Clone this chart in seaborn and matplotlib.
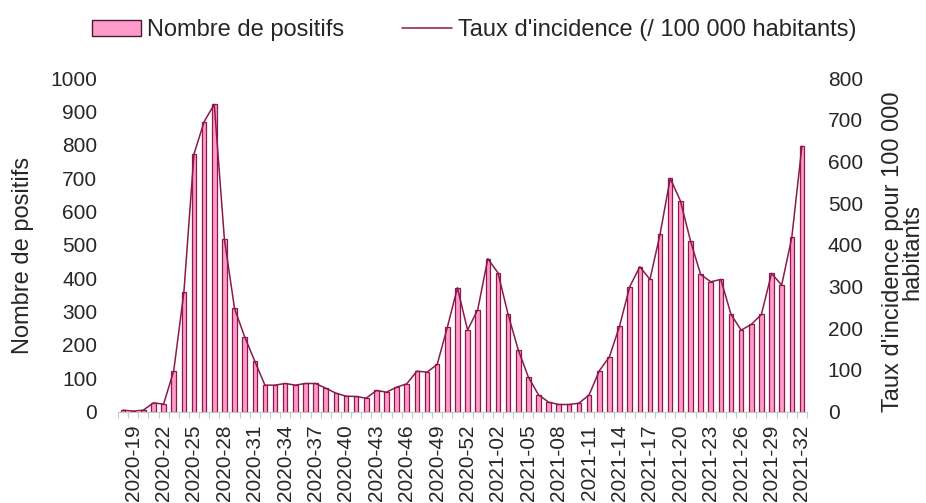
import numpy as np
import matplotlib
matplotlib.use('Agg')
import matplotlib.pyplot as plt
import seaborn as sns
from matplotlib.patches import Patch
from matplotlib.lines import Line2D

# ---------------------------
# Data
# ---------------------------
weeks = ['2020-%02d' % w for w in range(18, 54)] + ['2021-%02d' % w for w in range(1, 33)]

positifs = [4, 1, 4, 26, 22, 122, 357, 772, 869, 921,
            517, 309, 224, 151, 79, 79, 84, 79, 84, 84,
            70, 55, 46, 45, 40, 63, 58, 73, 83, 121,
            118, 141, 252, 371, 244, 305, 458, 416, 291, 185,
            103, 50, 28, 21, 21, 25, 50, 122, 164, 256,
            374, 434, 396, 532, 699, 632, 512, 411, 389, 396,
            291, 244, 261, 291, 414, 379, 522, 796]

taux = [3.2, 0.8, 3.2, 20.8, 17.6, 97.6, 285.6, 617.6, 695.2, 736.8,
        413.6, 247.2, 179.2, 120.8, 63.2, 63.2, 67.2, 63.2, 67.2, 67.2,
        56.0, 44.0, 36.8, 36.0, 32.0, 50.4, 46.4, 58.4, 66.4, 96.8,
        94.4, 112.8, 201.6, 296.8, 195.2, 244.0, 366.4, 332.8, 232.8, 148.0,
        82.4, 40.0, 22.4, 16.8, 16.8, 20.0, 40.0, 97.6, 131.2, 204.8,
        299.2, 347.2, 316.8, 425.6, 559.2, 505.6, 409.6, 328.8, 311.2, 316.8,
        232.8, 195.2, 208.8, 232.8, 331.2, 303.2, 417.6, 636.8]

# every third week gets a label, starting with 2020-19
tick_idx = list(range(1, len(weeks), 3))

bar_fill = '#ff9ccb'
dark = '#8b1a4b'
txt = '#262626'

sns.set_theme(style='white')
plt.rcParams['font.family'] = ['Liberation Sans', 'DejaVu Sans']

fig = plt.figure(figsize=(9.26, 5.03), dpi=100)
ax = fig.add_axes([118 / 926, 1 - 411.5 / 503, 689 / 926, 333.5 / 503])

# ---------------------------
# Bars: number of positives
# ---------------------------
sns.barplot(x=weeks, y=positifs, ax=ax, color=bar_fill, saturation=1,
            width=0.45, edgecolor=dark, linewidth=0.9)

# ---------------------------
# Line: incidence rate on the right axis
# ---------------------------
ax2 = ax.twinx()
sns.lineplot(x=np.arange(len(weeks)), y=taux, ax=ax2, color=dark, linewidth=1.1)

ax.set_xlim(-0.5, len(weeks) - 0.5)
ax.set_ylim(0, 1000)
ax.set_yticks(range(0, 1001, 100))
ax2.set_ylim(0, 800)
ax2.set_yticks(range(0, 801, 100))

ax.set_xticks(tick_idx)
ax.set_xticklabels([weeks[i] for i in tick_idx], rotation=90)
ax.set_xticks(np.arange(-0.5, len(weeks), 1), minor=True)
ax.tick_params(axis='x', which='major', length=0, pad=9.5, labelsize=15, labelcolor=txt)
ax.tick_params(axis='x', which='minor', length=4, width=0.8, color='#c8c8c8', bottom=True)
ax.tick_params(axis='y', length=0, pad=15, labelsize=15, labelcolor=txt)
ax2.tick_params(axis='y', length=0, pad=15, labelsize=15, labelcolor=txt)
ax.set_xlabel('')
ax.set_ylabel('')
ax2.set_ylabel('')

for a in (ax, ax2):
    for side in ('top', 'left', 'right'):
        a.spines[side].set_visible(False)
ax.spines['bottom'].set_color('#c8c8c8')
ax.spines['bottom'].set_linewidth(0.8)
ax2.spines['bottom'].set_visible(False)

# axis titles
fig.text(23 / 926, 1 - 255 / 503, 'Nombre de positifs', rotation=90,
         ha='center', va='center', fontsize=17, color=txt)
fig.text(903 / 926, 1 - 252 / 503, "Taux d'incidence pour 100 000\nhabitants",
         rotation=90, ha='center', va='center', multialignment='center',
         fontsize=17, color=txt, linespacing=0.85)

# legend
handles = [Patch(facecolor=bar_fill, edgecolor='#4a1830', linewidth=1.0),
           Line2D([], [], color=dark, linewidth=1.1)]
fig.legend(handles, ['Nombre de positifs', "Taux d'incidence (/ 100 000 habitants)"],
           loc='center', bbox_to_anchor=(0.512, 0.94), ncol=2, frameon=False,
           fontsize=17, handlelength=2.1, handleheight=0.65, handletextpad=0.25,
           columnspacing=2.45, labelcolor=txt)

fig.savefig('out.png', dpi=100)
